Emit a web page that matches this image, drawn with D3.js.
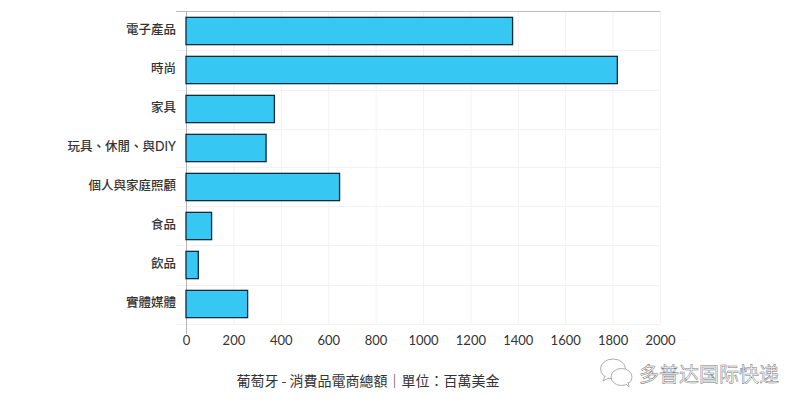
<!DOCTYPE html>
<html>
<head>
<meta charset="utf-8">
<script src="https://cdn.jsdelivr.net/npm/d3@7"></script>
<style>
html,body{margin:0;padding:0;background:#fff}
svg{display:block}
text{font-family:"Noto Sans CJK TC","Lato",sans-serif}
</style>
</head>
<body>
<svg id="chart" width="803" height="410"></svg>
<script>
// 資料
var categories = ["電子產品","時尚","家具","玩具、休閒、與DIY","個人與家庭照顧","食品","飲品","實體媒體"]
var values = [1378,1820,373,338,648,108,52,260]
var xTicks = [0,200,400,600,800,1000,1200,1400,1600,1800,2000]
var chartTitle = "葡萄牙 - 消費品電商總額｜單位：百萬美金"
var watermark = "多普达国际快递"

var svg = d3.select("#chart")
var x = d3.scaleLinear().domain([0,2000]).range([186,660])
var y = d3.scaleBand().domain(categories).range([11.5,323.5]).paddingInner(0.3).paddingOuter(0.15)

// 格線
var stepY = y.step()
var bandLines = categories.map(function(c){ return y(c)+y.bandwidth()+(stepY-y.bandwidth())/2 })
svg.append("g").selectAll("line").data(xTicks.slice(1)).enter().append("line")
    .attr("x1",function(d){return x(d)+0.5}).attr("x2",function(d){return x(d)+0.5})
    .attr("y1",11.5).attr("y2",323.5)
    .attr("stroke","#f2f2f2").attr("stroke-width",1)
svg.append("g").selectAll("line").data(bandLines).enter().append("line")
    .attr("x1",176).attr("x2",660.5)
    .attr("y1",function(d){return Math.round(d)+0.5}).attr("y2",function(d){return Math.round(d)+0.5})
    .attr("stroke","#f2f2f2").attr("stroke-width",1)

// 위쪽 선, 세로축
svg.append("line").attr("x1",176).attr("x2",660.5).attr("y1",11.5).attr("y2",11.5)
    .attr("stroke","#bdbdbd")
svg.append("line").attr("x1",186.5).attr("x2",186.5).attr("y1",11.5).attr("y2",334)
    .attr("stroke","#b5b5b5")

// 막대
svg.append("g").selectAll("rect").data(values).enter().append("rect")
    .attr("x",x(0))
    .attr("y",function(d,i){return y(categories[i])})
    .attr("width",function(d){return x(d)-x(0)})
    .attr("height",y.bandwidth())
    .attr("fill","#36c8f2")
    .attr("stroke","#0b2a3d")
    .attr("stroke-width",1.3)

// 축
var xAxis = d3.axisBottom(x).tickValues(xTicks).tickSize(0).tickPadding(0).tickFormat(d3.format("d"))
var gx = svg.append("g").attr("transform","translate(0,335)").call(xAxis)
gx.select(".domain").remove()
gx.selectAll("text").attr("dy","0.8em").attr("fill","#333").style("font-family","Lato").style("font-size","13px")

var yAxis = d3.axisLeft(y).tickSize(0).tickPadding(10)
var gy = svg.append("g").attr("transform","translate(186,-1.5)").call(yAxis)
gy.select(".domain").remove()
gy.selectAll("text").attr("fill","#333").style("font-size","12.5px").style("font-weight","500")
    .style("font-family",'Lato,"Noto Sans CJK TC",sans-serif')

// 제목
svg.append("text").attr("x",368).attr("y",386).attr("text-anchor","middle")
    .attr("fill","#333").style("font-size","14px").text(chartTitle)

// 워터마크
var wm = svg.append("g").attr("fill","#fff").attr("stroke","#999").attr("stroke-width",0.8)
wm.append("ellipse").attr("cx",613).attr("cy",369).attr("rx",12.5).attr("ry",10)
wm.append("path").attr("d","M605 376 L603 381 L609 378")
wm.append("ellipse").attr("cx",621.5).attr("cy",377).attr("rx",10.5).attr("ry",8.5)
wm.append("path").attr("d","M626 384 L629 387 L628 382")
svg.append("text").attr("x",639).attr("y",382)
    .attr("fill","#fff").attr("stroke","#777").attr("stroke-width",0.5)
    .style("font-size","20px").style("font-family",'"Noto Sans CJK SC",sans-serif').text(watermark)
</script>
</body>
</html>
